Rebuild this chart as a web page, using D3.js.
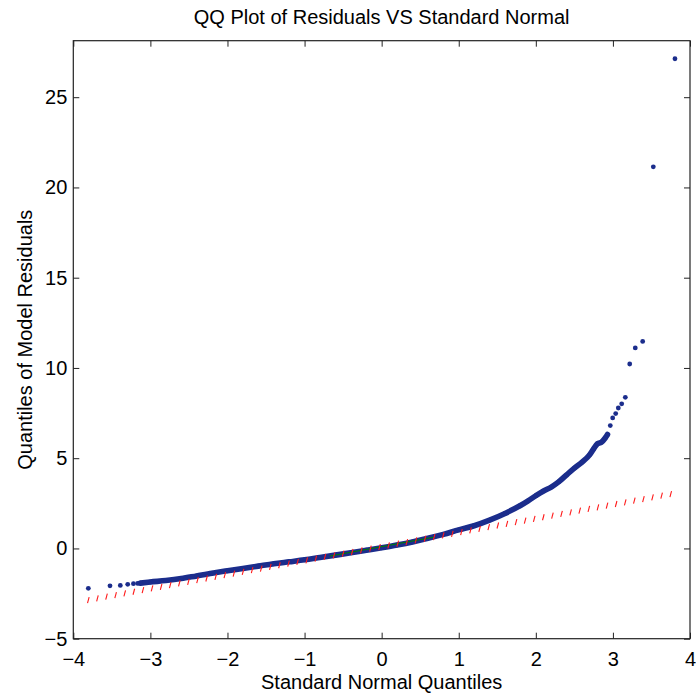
<!DOCTYPE html>
<html>
<head>
<meta charset="utf-8">
<script src="https://cdn.jsdelivr.net/npm/d3@7"></script>
<style>
  body { margin: 0; background: #fff; }
  svg text { font-family: "Liberation Sans", Arial, sans-serif; fill: #000; }
</style>
</head>
<body>
<svg id="chart" width="696" height="696"></svg>
<script>
// ticks
const xTicks = [-4, -3, -2, -1, 0, 1, 2, 3, 4];
const yTicks = [-5, 0, 5, 10, 15, 20, 25];

// dense part of the sample quantiles
const bandX = [-3.13, -3.0, -2.8, -2.6, -2.4, -2.2, -2.0, -1.8, -1.6, -1.4, -1.2, -1.0, -0.8, -0.6, -0.4, -0.2,
    0.0, 0.2, 0.4, 0.6, 0.8, 1.0, 1.2, 1.4, 1.6, 1.8, 1.9, 2.0, 2.1, 2.2, 2.3, 2.4, 2.5, 2.6, 2.7, 2.75, 2.8, 2.85, 2.9, 2.93];
const bandY = [-1.92, -1.86, -1.78, -1.67, -1.52, -1.37, -1.24, -1.11, -0.98, -0.85, -0.74, -0.63, -0.50, -0.37, -0.24, -0.10,
    0.04, 0.19, 0.36, 0.56, 0.78, 1.03, 1.26, 1.57, 1.94, 2.38, 2.64, 2.92, 3.18, 3.40, 3.70, 4.08, 4.45, 4.78, 5.20, 5.52, 5.80, 5.88, 6.12, 6.31];

// separated points in the tails
const tailX = [-3.805, -3.524, -3.39, -3.294, -3.22, -3.165,
    2.966, 2.997, 3.036, 3.07, 3.114, 3.161, 3.218, 3.29, 3.386, 3.524, 3.805];
const tailY = [-2.21, -2.07, -2.05, -1.99, -1.95, -1.94,
    6.81, 7.23, 7.47, 7.78, 8.01, 8.37, 10.22, 11.11, 11.47, 21.14, 27.13];

// reference line through the quartiles, extended over the data range
const refX = [-3.805, 3.805];
const refY = [-2.857, 3.056];
const quartX = [-0.674, 0.674];
const quartY = [-0.424, 0.624];

const mLeft = 73.3, mRight = 690, mTop = 40.7, mBottom = 638.7;
const blue = '#1b2d8c';

let svg = d3.select('#chart');

let x = d3.scaleLinear().domain([-4, 4]).range([mLeft, mRight]);
let y = d3.scaleLinear().domain([-5, 28.13]).range([mBottom, mTop]);

let axisFont = g => g.attr('font-size', 20).attr('font-family', null);

svg.append('g')
    .attr('transform', `translate(0,${mBottom})`)
    .call(d3.axisBottom(x).tickValues(xTicks).tickSizeInner(-6).tickSizeOuter(0).tickPadding(13))
    .call(axisFont)
    .call(g => g.select('.domain').remove());
svg.append('g')
    .attr('transform', `translate(0,${mTop})`)
    .call(d3.axisTop(x).tickValues(xTicks).tickSizeInner(-6).tickSizeOuter(0).tickFormat(''))
    .call(g => g.select('.domain').remove());
svg.append('g')
    .attr('transform', `translate(${mLeft},0)`)
    .call(d3.axisLeft(y).tickValues(yTicks).tickSizeInner(-6).tickSizeOuter(0).tickPadding(6))
    .call(axisFont)
    .call(g => g.select('.domain').remove());
svg.append('g')
    .attr('transform', `translate(${mRight},0)`)
    .call(d3.axisRight(y).tickValues(yTicks).tickSizeInner(-6).tickSizeOuter(0).tickFormat(''))
    .call(g => g.select('.domain').remove());

svg.selectAll('.tick line').attr('stroke', '#222');

// data band
let band = bandX.map((d, i) => [d, bandY[i]]);
let tail = tailX.map((d, i) => [d, tailY[i]]);

svg.append('path')
    .datum(band)
    .attr('fill', 'none')
    .attr('stroke', blue)
    .attr('stroke-width', 5.6)
    .attr('stroke-linecap', 'round')
    .attr('stroke-linejoin', 'round')
    .attr('d', d3.line().x(d => x(d[0])).y(d => y(d[1])).curve(d3.curveMonotoneX));

svg.append('g')
    .selectAll('circle')
    .data(band.concat(tail))
    .join('circle')
    .attr('cx', d => x(d[0]))
    .attr('cy', d => y(d[1]))
    .attr('r', 2.4)
    .attr('fill', blue);

// green segment between quartiles
svg.append('line')
    .attr('x1', x(quartX[0])).attr('y1', y(quartY[0]))
    .attr('x2', x(quartX[1])).attr('y2', y(quartY[1]))
    .attr('stroke', '#008000')
    .attr('stroke-width', 1);

// red dash-dot extension, drawn as the short slanted strokes of the original
let refLine = d3.scaleLinear().domain(refX).range(refY);
let step = 9.1;
let px0 = x(refX[0]), px1 = x(refX[1]);
let dashes = d3.range(px0, px1, step).map(px => [x.invert(px), refLine(x.invert(px))]);
svg.append('g')
    .selectAll('line')
    .data(dashes)
    .join('line')
    .attr('x1', d => x(d[0]) - 0.8).attr('y1', d => y(d[1]) + 3)
    .attr('x2', d => x(d[0]) + 0.8).attr('y2', d => y(d[1]) - 3)
    .attr('stroke', '#ff1a1a')
    .attr('stroke-width', 1.1);

// frame
svg.append('rect')
    .attr('x', mLeft).attr('y', mTop)
    .attr('width', mRight - mLeft).attr('height', mBottom - mTop)
    .attr('fill', 'none')
    .attr('stroke', '#222')
    .attr('stroke-width', 1.2);

// texts
svg.append('text')
    .attr('x', (mLeft + mRight) / 2).attr('y', 24)
    .attr('text-anchor', 'middle')
    .attr('font-size', 20)
    .text('QQ Plot of Residuals VS Standard Normal');

svg.append('text')
    .attr('x', (mLeft + mRight) / 2).attr('y', 689)
    .attr('text-anchor', 'middle')
    .attr('font-size', 20)
    .text('Standard Normal Quantiles');

svg.append('text')
    .attr('transform', `translate(32,${(mTop + mBottom) / 2}) rotate(-90)`)
    .attr('text-anchor', 'middle')
    .attr('font-size', 20)
    .text('Quantiles of Model Residuals');
</script>
</body>
</html>
